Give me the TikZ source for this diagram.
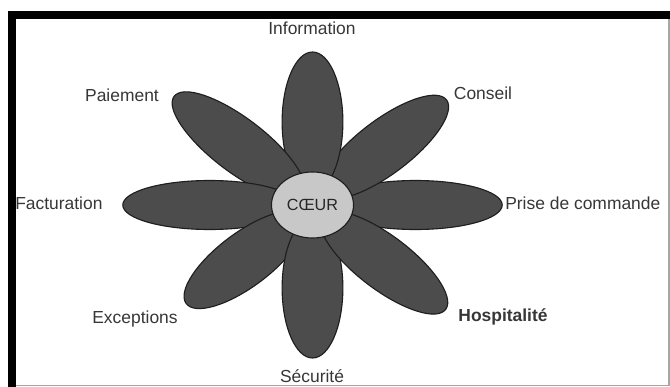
\documentclass[tikz,border=0pt]{standalone}
\usepackage{fontspec}
\setmainfont{Liberation Sans}
\usepackage{tikz}
\usetikzlibrary{shapes}
\definecolor{petal_color}{RGB}{76,76,76}
\definecolor{petal_line}{RGB}{30,30,30}
\definecolor{heart_color}{RGB}{200,200,200}
\definecolor{text_color}{RGB}{55,55,55}

\begin{document}
\begin{tikzpicture}[
                x=0.025cm, y=-0.025cm,
                every node/.style={inner sep=0pt},
                petal/.style={draw=petal_line, fill=petal_color, line width=0.8pt},
                heart/.style={draw=petal_line, fill=heart_color, line width=0.8pt, ellipse, minimum width=2.05cm, minimum height=1.65cm, font=\fontsize{11.5}{13}\selectfont, text=black!85},
                leaf_text/.style={text=text_color, font=\fontsize{12.4}{14}\selectfont}
            ]
                \useasboundingbox (0,0) rectangle (670,387);
                \fill[white] (0,0) rectangle (670,387);
                
                % Frame (thick black top and left, thin gray right and bottom)
                \fill[black] (8,11) rectangle (670,19);
                \fill[black] (8,11) rectangle (16,387);
                \draw[gray!70, line width=1.2pt] (16,385.5) -- (669,385.5) -- (669,19);
                
                % Petals (flower stretched horizontally), angle / tip distance
                \begin{scope}[shift={(312.5,205)}, xscale=1.24]
                    \foreach \a/\tip in {0/153, 45/151, 90/153, 135/156, 180/153, 225/142, 270/153, 315/150} {
                        \draw[petal, rotate=\a] ({(\tip+13)/2},0) ellipse ({(\tip-13)/2} and 24.5);
                    }
                \end{scope}
                
                % Heart of the flower
                \node[heart] (coeur) at (312.5,205) {CŒUR};
                
                % Petal labels
                \node[leaf_text] (information) at (312,28) {Information};
                \node[leaf_text] (paiement) at (122,95) {Paiement};
                \node[leaf_text] (conseil) at (483,93) {Conseil};
                \node[leaf_text, anchor=west] (facturation) at (15,203) {Facturation};
                \node[leaf_text, anchor=west] (prise) at (505,203) {Prise de commande};
                \node[leaf_text] (exceptions) at (135,319) {Exceptions};
                \node[leaf_text, font=\fontsize{12.4}{14}\selectfont\bfseries] (hospitalite) at (503,317) {Hospitalité};
                \node[leaf_text] (securite) at (312,376) {Sécurité};
            \end{tikzpicture}
\end{document}
